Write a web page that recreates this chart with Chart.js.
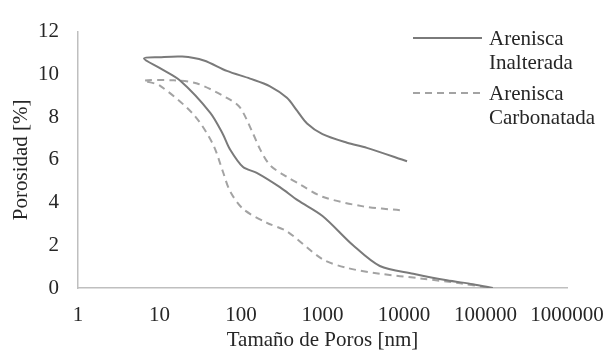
<!DOCTYPE html>
<html lang="es">
<head>
<meta charset="UTF-8">
<title>Porosidad vs Tamaño de Poros</title>
<script src="https://cdn.jsdelivr.net/npm/chart.js"></script>
<style>
  html, body { margin: 0; padding: 0; background: #fff; }
  #wrap { width: 605px; height: 356px; position: relative; }
</style>
</head>
<body>
<div id="wrap"><canvas id="poros"></canvas></div>
<script>
// curva de intrusión/extrusión, recorrida como un solo lazo
const inalteradaX = [10900, 3500, 2000, 1000, 646, 487, 366, 227, 129, 67, 35, 19, 10, 6.45,
                     10, 18, 42, 60, 73, 106, 156, 300, 500, 1000, 2370, 5050, 13000, 33600, 70000, 123000];
const inalteradaY = [5.93, 6.56, 6.8, 7.2, 7.7, 8.3, 8.9, 9.44, 9.8, 10.16, 10.65, 10.83, 10.8, 10.74,
                     10.3, 9.7, 8.2, 7.2, 6.5, 5.66, 5.39, 4.72, 4.1, 3.37, 2.0, 1.03, 0.67, 0.36, 0.18, 0];

const carbonatadaX = [8900, 3150, 1000, 530, 366, 227, 171, 140, 97, 67, 29, 15, 6.45,
                      10, 26, 45, 60, 73, 106, 208, 366, 1000, 2000, 5050, 15800, 49000, 113000];
const carbonatadaY = [3.64, 3.82, 4.27, 4.85, 5.2, 5.75, 6.5, 7.24, 8.45, 8.9, 9.57, 9.72, 9.7,
                      9.48, 8.13, 6.75, 5.44, 4.55, 3.7, 3.05, 2.65, 1.35, 0.94, 0.67, 0.45, 0.22, 0];

const xTicks = [1, 10, 100, 1000, 10000, 100000, 1000000];
const yTicks = [0, 2, 4, 6, 8, 10, 12];
const seriesNames = [['Arenisca', 'Inalterada'], ['Arenisca', 'Carbonatada']];

const FONT = '"Liberation Serif", "Times New Roman", serif';
const TXT = '#262626';

function pts(xs, ys) {
  return xs.map((x, i) => ({ x: x, y: ys[i] }));
}

// leyenda dibujada dentro del área, como en la figura
const legendPlugin = {
  id: 'legendaLateral',
  afterDraw(chart) {
    const ctx = chart.ctx;
    ctx.save();
    ctx.font = '21px ' + FONT;
    ctx.fillStyle = TXT;
    ctx.textBaseline = 'middle';
    chart.data.datasets.forEach((ds, i) => {
      const y0 = 38 + i * 55;
      ctx.strokeStyle = ds.borderColor;
      ctx.lineWidth = ds.borderWidth;
      ctx.setLineDash(ds.borderDash || []);
      ctx.beginPath();
      ctx.moveTo(413, y0);
      ctx.lineTo(482, y0);
      ctx.stroke();
      ctx.setLineDash([]);
      seriesNames[i].forEach((t, k) => ctx.fillText(t, 489, y0 + 1 + k * 24));
    });
    ctx.restore();
  }
};

new Chart(document.getElementById('poros'), {
  type: 'scatter',
  data: {
    datasets: [
      {
        label: seriesNames[0].join(' '),
        data: pts(inalteradaX, inalteradaY),
        showLine: true,
        borderColor: '#7a7a7a',
        borderWidth: 2,
        pointRadius: 0,
        tension: 0.3
      },
      {
        label: seriesNames[1].join(' '),
        data: pts(carbonatadaX, carbonatadaY),
        showLine: true,
        borderColor: '#a3a3a3',
        borderWidth: 2,
        borderDash: [7, 5],
        pointRadius: 0,
        tension: 0.3
      }
    ]
  },
  options: {
    responsive: true,
    maintainAspectRatio: false,
    animation: false,
    layout: { padding: { top: 21, right: 38, left: 0, bottom: 0 } },
    plugins: { legend: { display: false }, tooltip: { enabled: false } },
    scales: {
      x: {
        type: 'logarithmic',
        min: 1,
        max: 1000000,
        afterBuildTicks: s => { s.ticks = xTicks.map(v => ({ value: v })); },
        afterFit: s => { s.height = 68; s.paddingLeft = 0; s.paddingRight = 0; },
        grid: { display: false, drawTicks: false },
        border: { color: '#bfbfbf', width: 1.5 },
        ticks: {
          color: TXT,
          font: { family: FONT, size: 21 },
          padding: 15,
          maxRotation: 0,
          autoSkip: false,
          callback: v => String(v)
        },
        title: {
          display: true,
          text: 'Tamaño de Poros [nm]',
          color: TXT,
          font: { family: FONT, size: 21 },
          padding: { top: 0, bottom: 3 }
        }
      },
      y: {
        min: 0,
        max: 12,
        afterBuildTicks: s => { s.ticks = yTicks.map(v => ({ value: v })); },
        afterFit: s => { s.width = 78; },
        grid: { display: false, drawTicks: false },
        border: { color: '#bfbfbf', width: 1.5 },
        ticks: {
          color: TXT,
          font: { family: FONT, size: 21 },
          padding: 19
        },
        title: {
          display: true,
          text: 'Porosidad [%]',
          color: TXT,
          font: { family: FONT, size: 21 },
          padding: { top: 9, bottom: 0 }
        }
      }
    }
  },
  plugins: [legendPlugin]
});
</script>
</body>
</html>
